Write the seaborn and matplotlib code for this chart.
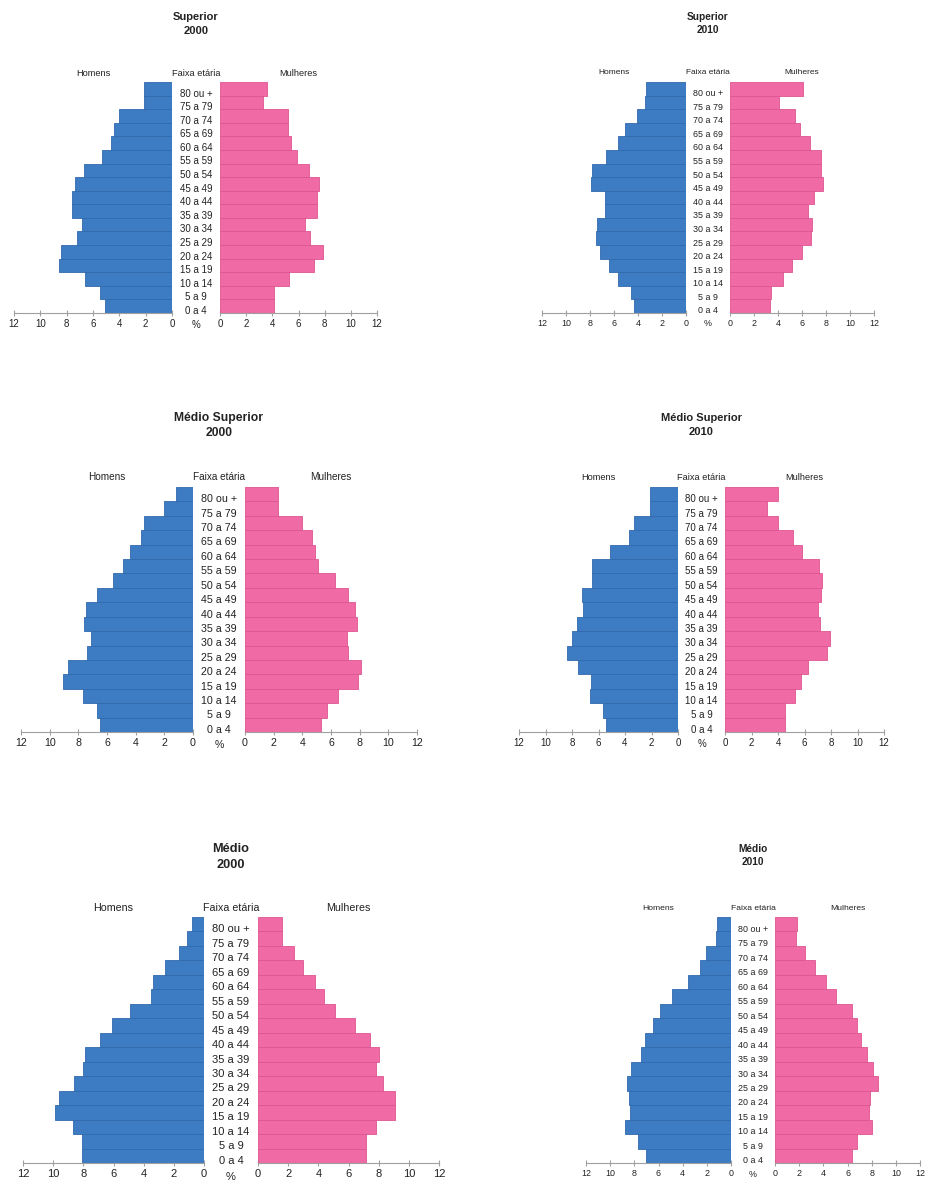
import matplotlib
matplotlib.use('Agg')
import matplotlib.pyplot as plt
import matplotlib.transforms as mtransforms
import seaborn as sns

sns.set_theme(style='white')
plt.rcParams['font.family'] = ['Liberation Sans', 'DejaVu Sans']

W, H = 927, 1180

AGES = ['80 ou +', '75 a 79', '70 a 74', '65 a 69', '60 a 64', '55 a 59', '50 a 54',
        '45 a 49', '40 a 44', '35 a 39', '30 a 34', '25 a 29', '20 a 24', '15 a 19',
        '10 a 14', '5 a 9', '0 a 4']
TICKS = [0, 2, 4, 6, 8, 10, 12]

# values in %, listed from 80 ou + down to 0 a 4
sup_2000_h = [2.1, 2.1, 4.0, 4.4, 4.6, 5.3, 6.7, 7.4, 7.6, 7.6, 6.8, 7.2, 8.4, 8.6, 6.6, 5.5, 5.1]
sup_2000_m = [3.6, 3.3, 5.2, 5.2, 5.4, 5.9, 6.8, 7.6, 7.4, 7.4, 6.5, 6.9, 7.9, 7.2, 5.3, 4.1, 4.1]
sup_2010_h = [3.3, 3.4, 4.1, 5.1, 5.65, 6.65, 7.85, 7.95, 6.75, 6.75, 7.45, 7.5, 7.15, 6.45, 5.65, 4.55, 4.35]
sup_2010_m = [6.1, 4.1, 5.45, 5.85, 6.65, 7.6, 7.6, 7.75, 7.0, 6.5, 6.85, 6.75, 6.0, 5.15, 4.45, 3.4, 3.3]
msup_2000_h = [1.2, 2.0, 3.4, 3.6, 4.4, 4.9, 5.6, 6.7, 7.5, 7.6, 7.15, 7.4, 8.7, 9.1, 7.7, 6.7, 6.5]
msup_2000_m = [2.3, 2.3, 4.0, 4.7, 4.9, 5.1, 6.3, 7.2, 7.65, 7.8, 7.1, 7.2, 8.1, 7.9, 6.5, 5.7, 5.3]
msup_2010_h = [2.15, 2.15, 3.35, 3.7, 5.15, 6.5, 6.5, 7.25, 7.2, 7.65, 8.0, 8.35, 7.55, 6.6, 6.65, 5.65, 5.45]
msup_2010_m = [4.0, 3.2, 4.0, 5.1, 5.8, 7.1, 7.3, 7.25, 7.0, 7.2, 7.9, 7.7, 6.3, 5.75, 5.3, 4.5, 4.55]
med_2000_h = [0.8, 1.1, 1.65, 2.6, 3.4, 3.5, 4.9, 6.1, 6.9, 7.9, 8.0, 8.6, 9.6, 9.9, 8.7, 8.1, 8.1]
med_2000_m = [1.6, 1.6, 2.4, 3.0, 3.8, 4.4, 5.1, 6.4, 7.4, 8.0, 7.85, 8.3, 9.1, 9.1, 7.85, 7.15, 7.15]
med_2010_h = [1.15, 1.2, 2.05, 2.55, 3.55, 4.9, 5.85, 6.45, 7.15, 7.45, 8.25, 8.6, 8.45, 8.4, 8.75, 7.7, 7.0]
med_2010_m = [1.85, 1.75, 2.45, 3.35, 4.2, 5.05, 6.35, 6.8, 7.1, 7.65, 8.15, 8.5, 7.9, 7.75, 8.0, 6.75, 6.35]

BLUE = '#3d7bc3'
BLUE_EDGE = '#3169ad'
PINK = '#f06aa6'
PINK_EDGE = '#dd5692'
AXIS_GRAY = '#a0a0a0'
TEXT = '#222222'

# (title, year, men, women, x of 12 left, x of 0 men, x of 0 women, x of 12 right,
#  bar top, bar bottom, title line y, header y)
panels = [
    ('Superior', '2000', sup_2000_h, sup_2000_m, 14, 172, 220, 377, 82, 313, 17, 73),
    ('Superior', '2010', sup_2010_h, sup_2010_m, 542, 686, 730, 874, 82, 313, 17, 73),
    ('Médio Superior', '2000', msup_2000_h, msup_2000_m, 21, 193, 245, 417, 487, 732, 418, 477),
    ('Médio Superior', '2010', msup_2010_h, msup_2010_m, 519, 678, 725, 884, 487, 732, 418, 477),
    ('Médio', '2000', med_2000_h, med_2000_m, 23, 204, 258, 439, 917, 1163, 849, 908),
    ('Médio', '2010', med_2010_h, med_2010_m, 586, 731, 775, 920, 917, 1163, 849, 908),
]

fig = plt.figure(figsize=(W / 100, H / 100), dpi=100)


def fx(px):
    return px / W


def fy(py):
    return 1 - py / H


def style_axis(ax, fs):
    sns.despine(ax=ax, left=True, top=True, right=True)
    ax.spines['bottom'].set_color(AXIS_GRAY)
    ax.spines['bottom'].set_linewidth(0.8)
    ax.set_xticks(TICKS)
    ax.set_xticklabels([str(t) for t in TICKS])
    ax.tick_params(axis='x', direction='inout', length=5, width=0.8, color=AXIS_GRAY,
                   labelsize=fs, labelcolor=TEXT, pad=2, bottom=True)
    ax.set_yticks([])
    ax.set_ylim(len(AGES) - 0.5, -0.5)
    ax.set_xlabel('')
    ax.set_ylabel('')
    ax.set_facecolor('none')


for title, year, men, women, xl, xm0, xw0, xr, top, bot, ty, hy in panels:
    s = (xm0 - xl) / 158.0
    fs = 7 * s
    ax_h = fig.add_axes([fx(xl), fy(bot), fx(xm0 - xl), (bot - top) / H])
    ax_m = fig.add_axes([fx(xw0), fy(bot), fx(xr - xw0), (bot - top) / H])

    sns.barplot(x=men, y=AGES, order=AGES, orient='h', color=BLUE, width=1.0,
                edgecolor=BLUE_EDGE, linewidth=0.6, saturation=1, ax=ax_h)
    sns.barplot(x=women, y=AGES, order=AGES, orient='h', color=PINK, width=1.0,
                edgecolor=PINK_EDGE, linewidth=0.6, saturation=1, ax=ax_m)
    ax_h.set_xlim(12, 0)
    ax_m.set_xlim(0, 12)
    style_axis(ax_h, fs)
    style_axis(ax_m, fs)

    # age labels sit a little below the middle of each bar, as in the original
    cx = fx((xm0 + xw0) / 2)
    trans = mtransforms.blended_transform_factory(fig.transFigure, ax_m.transData)
    for i, age in enumerate(AGES):
        ax_m.text(cx, i + 0.35, age, transform=trans, ha='center', va='center',
                  fontsize=fs, color=TEXT, clip_on=False)

    # header row
    fig.text(fx((xl + xm0) / 2), fy(hy), 'Homens', ha='center', va='center', fontsize=fs * 0.95, color=TEXT)
    fig.text(cx, fy(hy), 'Faixa etária', ha='center', va='center', fontsize=fs * 0.95, color=TEXT)
    fig.text(fx((xw0 + xr) / 2), fy(hy), 'Mulheres', ha='center', va='center', fontsize=fs * 0.95, color=TEXT)
    # % under the age labels
    fig.text(cx, fy(bot + 12 * s), '%', ha='center', va='center', fontsize=fs, color=TEXT)

    # title
    fig.text(cx, fy(ty), title, ha='center', va='center', fontsize=8 * s, fontweight='bold', color=TEXT)
    fig.text(cx, fy(ty + 14 * s), year, ha='center', va='center', fontsize=8 * s, fontweight='bold', color=TEXT)

fig.savefig('out.png', dpi=100, facecolor='white')
